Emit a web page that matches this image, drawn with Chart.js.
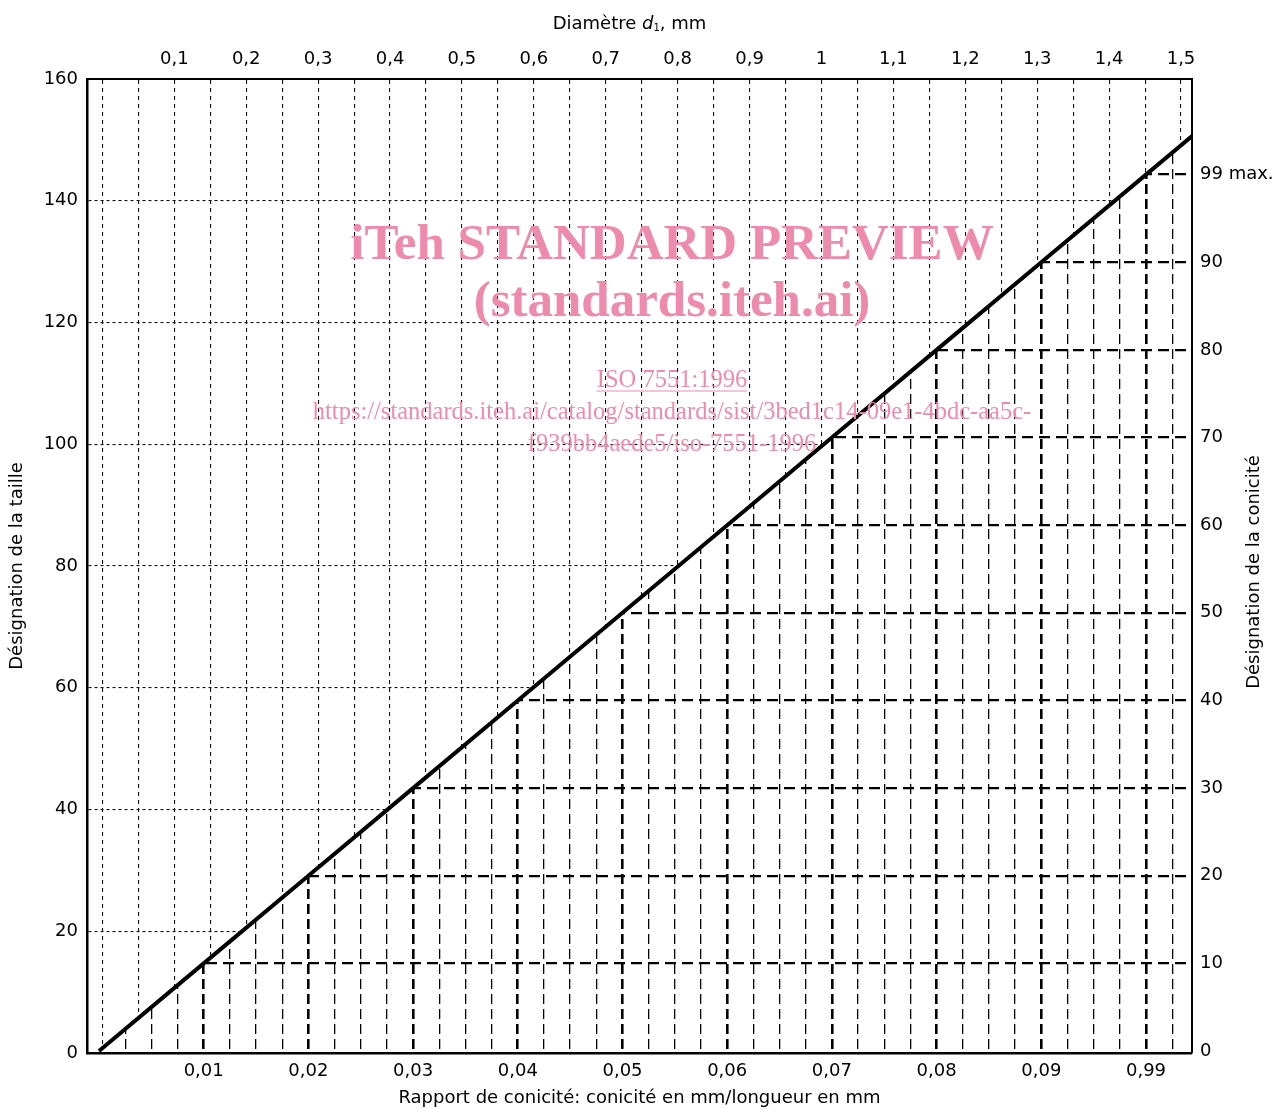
<!DOCTYPE html>
<html>
<head>
<meta charset="utf-8">
<script src="https://cdn.jsdelivr.net/npm/chart.js@4.4.1/dist/chart.umd.min.js"></script>
<style>
  html, body { margin: 0; padding: 0; background: #ffffff; }
  canvas { display: block; }
</style>
</head>
<body>
<canvas id="chart" width="1274" height="1109"></canvas>
<script>
// ---------------- DATA ----------------
// Diagonal: Désignation de la conicité vs rapport de conicité
const taperRatio = [0, 0.01, 0.02, 0.03, 0.04, 0.05, 0.06, 0.07, 0.08, 0.09, 0.10, 0.105];
const taperDesignation = [0, 10, 20, 30, 40, 50, 60, 70, 80, 90, 100, 105];

// Bottom axis: rapport de conicité
const ratioTickValues = [0.01, 0.02, 0.03, 0.04, 0.05, 0.06, 0.07, 0.08, 0.09, 0.10];
const ratioTickLabels = ['0,01', '0,02', '0,03', '0,04', '0,05', '0,06', '0,07', '0,08', '0,09', '0,99'];
const ratioGridValues = [0, 0.0025, 0.005, 0.0075, 0.01, 0.0125, 0.015, 0.0175, 0.02, 0.0225, 0.025, 0.0275,
  0.03, 0.0325, 0.035, 0.0375, 0.04, 0.0425, 0.045, 0.0475, 0.05, 0.0525, 0.055, 0.0575, 0.06, 0.0625, 0.065,
  0.0675, 0.07, 0.0725, 0.075, 0.0775, 0.08, 0.0825, 0.085, 0.0875, 0.09, 0.0925, 0.095, 0.0975, 0.1, 0.1025];

// Top axis: diamètre d1, mm
const diameterTickValues = [0.1, 0.2, 0.3, 0.4, 0.5, 0.6, 0.7, 0.8, 0.9, 1.0, 1.1, 1.2, 1.3, 1.4, 1.5];
const diameterTickLabels = ['0,1', '0,2', '0,3', '0,4', '0,5', '0,6', '0,7', '0,8', '0,9', '1', '1,1', '1,2', '1,3', '1,4', '1,5'];
const diameterGridValues = [0, 0.05, 0.1, 0.15, 0.2, 0.25, 0.3, 0.35, 0.4, 0.45, 0.5, 0.55, 0.6, 0.65, 0.7, 0.75,
  0.8, 0.85, 0.9, 0.95, 1.0, 1.05, 1.1, 1.15, 1.2, 1.25, 1.3, 1.35, 1.4, 1.45, 1.5];

// Left axis: désignation de la taille
const sizeTickValues = [0, 20, 40, 60, 80, 100, 120, 140, 160];
const sizeTickLabels = ['0', '20', '40', '60', '80', '100', '120', '140', '160'];

// Right axis: désignation de la conicité
const taperTickValues = [0, 10, 20, 30, 40, 50, 60, 70, 80, 90, 100];
const taperTickLabels = ['0', '10', '20', '30', '40', '50', '60', '70', '80', '90', '99 max.'];

// Texts
const titleLeft = 'Désignation de la taille';
const titleRight = 'Désignation de la conicité';
const titleBottom = 'Rapport de conicité: conicité en mm/longueur en mm';
const watermarkLines = ['iTeh STANDARD PREVIEW', '(standards.iteh.ai)', 'ISO 7551:1996',
  'https://standards.iteh.ai/catalog/standards/sist/3bed1c14-09e1-4bdc-aa5c-', 'f939bb4aede5/iso-7551-1996'];

// ---------------- STYLE ----------------
const FONT = '"DejaVu Sans", "Noto Sans", sans-serif';
const FS = 18;
const INK = '#000000';
const PINK = '#ee8aab';

function near(a, b) { return Math.abs(a - b) < 1e-9; }
function labelFor(values, labels) {
  return (v) => { const i = values.findIndex(t => near(t, v)); return i >= 0 ? labels[i] : ''; };
}
function setTicks(values) {
  return (scale) => { scale.ticks = values.map(v => ({ value: v })); };
}

// Clip helper: region above or below the diagonal line dataset
function clipToSide(chart, side) {
  const pts = chart.getDatasetMeta(0).data;
  const a = pts[0], b = pts[pts.length - 1];
  const slope = (b.y - a.y) / (b.x - a.x);
  const yAt = x => a.y + slope * (x - a.x);
  const { left, right, top, bottom } = chart.chartArea;
  const L = left - 30, R = right + 30;
  const ctx = chart.ctx;
  ctx.beginPath();
  ctx.moveTo(L, yAt(L));
  ctx.lineTo(R, yAt(R));
  if (side === 'below') { ctx.lineTo(R, bottom + 3000); ctx.lineTo(L, bottom + 3000); }
  else { ctx.lineTo(R, top - 3000); ctx.lineTo(L, top - 3000); }
  ctx.closePath();
  ctx.clip();
}

const gridSides = { x: 'below', y2: 'below', x2: 'above', y: 'above' };

const splitGridPlugin = {
  id: 'splitGrid',
  beforeDraw(chart) {
    Object.keys(gridSides).forEach(id => {
      const scale = chart.scales[id];
      if (!scale || scale._splitPatched) return;
      const orig = scale.drawGrid;
      scale.drawGrid = function (area) {
        const ctx = chart.ctx;
        ctx.save();
        clipToSide(chart, gridSides[id]);
        orig.call(this, area);
        ctx.restore();
      };
      scale._splitPatched = true;
    });
  }
};

const textPlugin = {
  id: 'extraTexts',
  afterDraw(chart) {
    const ctx = chart.ctx;
    const { left, right, top, bottom } = chart.chartArea;
    // Top title with italic d and subscript 1
    ctx.save();
    ctx.fillStyle = INK;
    ctx.textBaseline = 'middle';
    const parts = [
      { t: 'Diamètre ', f: FS + 'px ' + FONT, dy: 0 },
      { t: 'd', f: 'italic ' + FS + 'px ' + FONT, dy: 0 },
      { t: '1', f: '10px ' + FONT, dy: 4 },
      { t: ', mm', f: FS + 'px ' + FONT, dy: 0 }
    ];
    let total = 0;
    parts.forEach(p => { ctx.font = p.f; p.w = ctx.measureText(p.t).width; total += p.w; });
    let x = (left + right) / 2 - 10 - total / 2;
    const ty = top - 55;
    parts.forEach(p => { ctx.font = p.f; ctx.textAlign = 'left'; ctx.fillText(p.t, x, ty + p.dy); x += p.w; });
    ctx.restore();

    // Right title, rotated reading bottom-to-top
    ctx.save();
    ctx.fillStyle = INK;
    ctx.font = FS + 'px ' + FONT;
    ctx.textAlign = 'center';
    ctx.textBaseline = 'middle';
    ctx.translate(chart.scales.y2.right - 20, (top + bottom) / 2 + 6);
    ctx.rotate(-Math.PI / 2);
    ctx.fillText(titleRight, 0, 0);
    ctx.restore();

    // Watermark overlay
    ctx.save();
    ctx.fillStyle = PINK;
    ctx.strokeStyle = PINK;
    ctx.textAlign = 'center';
    ctx.textBaseline = 'alphabetic';
    const cx = 672;
    ctx.font = 'bold 51px "Liberation Serif", "DejaVu Serif", serif';
    ctx.fillText(watermarkLines[0], cx, 259);
    ctx.fillText(watermarkLines[1], cx, 316);
    ctx.font = '24.5px "Liberation Serif", "DejaVu Serif", serif';
    ctx.fillText(watermarkLines[2], cx, 387);
    const w = ctx.measureText(watermarkLines[2]).width;
    ctx.lineWidth = 1.2;
    ctx.beginPath();
    ctx.moveTo(cx - w / 2, 391);
    ctx.lineTo(cx + w / 2, 391);
    ctx.stroke();
    ctx.fillText(watermarkLines[3], cx, 419);
    ctx.fillText(watermarkLines[4], cx, 451);
    ctx.restore();
  }
};

const tickFont = { family: FONT, size: FS };

new Chart(document.getElementById('chart'), {
  type: 'line',
  data: {
    datasets: [{
      data: taperRatio.map((r, i) => ({ x: r, y: taperDesignation[i] })),
      xAxisID: 'x',
      yAxisID: 'y2',
      borderColor: INK,
      borderWidth: 4,
      pointRadius: 0,
      tension: 0,
      fill: false
    }]
  },
  options: {
    responsive: false,
    animation: false,
    layout: { padding: 0 },
    plugins: { legend: { display: false }, tooltip: { enabled: false } },
    scales: {
      x: {
        type: 'linear', position: 'bottom', axis: 'x', bounds: 'data',
        min: -0.001146, max: 0.104394,
        afterBuildTicks: setTicks(ratioGridValues),
        afterFit: s => { s.height = 56; },
        ticks: { autoSkip: false, maxRotation: 0, minRotation: 0, padding: 8, color: INK, font: tickFont,
          callback: labelFor(ratioTickValues, ratioTickLabels) },
        grid: { drawTicks: false, color: INK,
          lineWidth: c => (c.tick && ratioTickValues.some(v => near(v, c.tick.value))) ? 2.6 : 1.3 },
        border: { display: true, color: INK, width: 2.5, dash: [10, 5] },
        title: { display: true, text: titleBottom, color: INK, font: { family: FONT, size: FS }, padding: { top: 0, bottom: 0 } }
      },
      x2: {
        type: 'linear', position: 'top', axis: 'x', bounds: 'data',
        min: -0.02142, max: 1.51529,
        afterBuildTicks: setTicks(diameterGridValues),
        afterFit: s => { s.height = 79; },
        ticks: { autoSkip: false, maxRotation: 0, minRotation: 0, padding: 9, color: INK, font: tickFont,
          callback: labelFor(diameterTickValues, diameterTickLabels) },
        grid: { drawTicks: false, color: '#111111', lineWidth: 1.1 },
        border: { display: true, color: INK, width: 2, dash: [4, 4] }
      },
      y: {
        type: 'linear', position: 'left', axis: 'y', bounds: 'data',
        min: 0, max: 160,
        afterBuildTicks: setTicks(sizeTickValues),
        afterFit: s => { s.width = 87; },
        ticks: { autoSkip: false, padding: 9, color: INK, font: tickFont,
          callback: labelFor(sizeTickValues, sizeTickLabels) },
        grid: { drawTicks: false, color: '#111111',
          lineWidth: c => (c.tick && (c.tick.value === 0 || c.tick.value === 160)) ? 0 : 1.1 },
        border: { display: true, color: INK, width: 2.5, dash: [3, 3] },
        title: { display: true, text: titleLeft, color: INK, font: { family: FONT, size: FS }, padding: { top: 7, bottom: 0 } }
      },
      y2: {
        type: 'linear', position: 'right', axis: 'y', bounds: 'data',
        min: -0.227, max: 110.91,
        afterBuildTicks: setTicks(taperTickValues),
        afterFit: s => { s.width = 82; },
        ticks: { autoSkip: false, padding: 8, color: INK, font: tickFont,
          callback: labelFor(taperTickValues, taperTickLabels) },
        grid: { drawTicks: false, color: INK,
          lineWidth: c => (c.tick && c.tick.value === 0) ? 0 : 2.3 },
        border: { display: true, color: INK, width: 2, dash: [11, 6] }
      }
    }
  },
  plugins: [splitGridPlugin, textPlugin]
});
</script>
</body>
</html>
